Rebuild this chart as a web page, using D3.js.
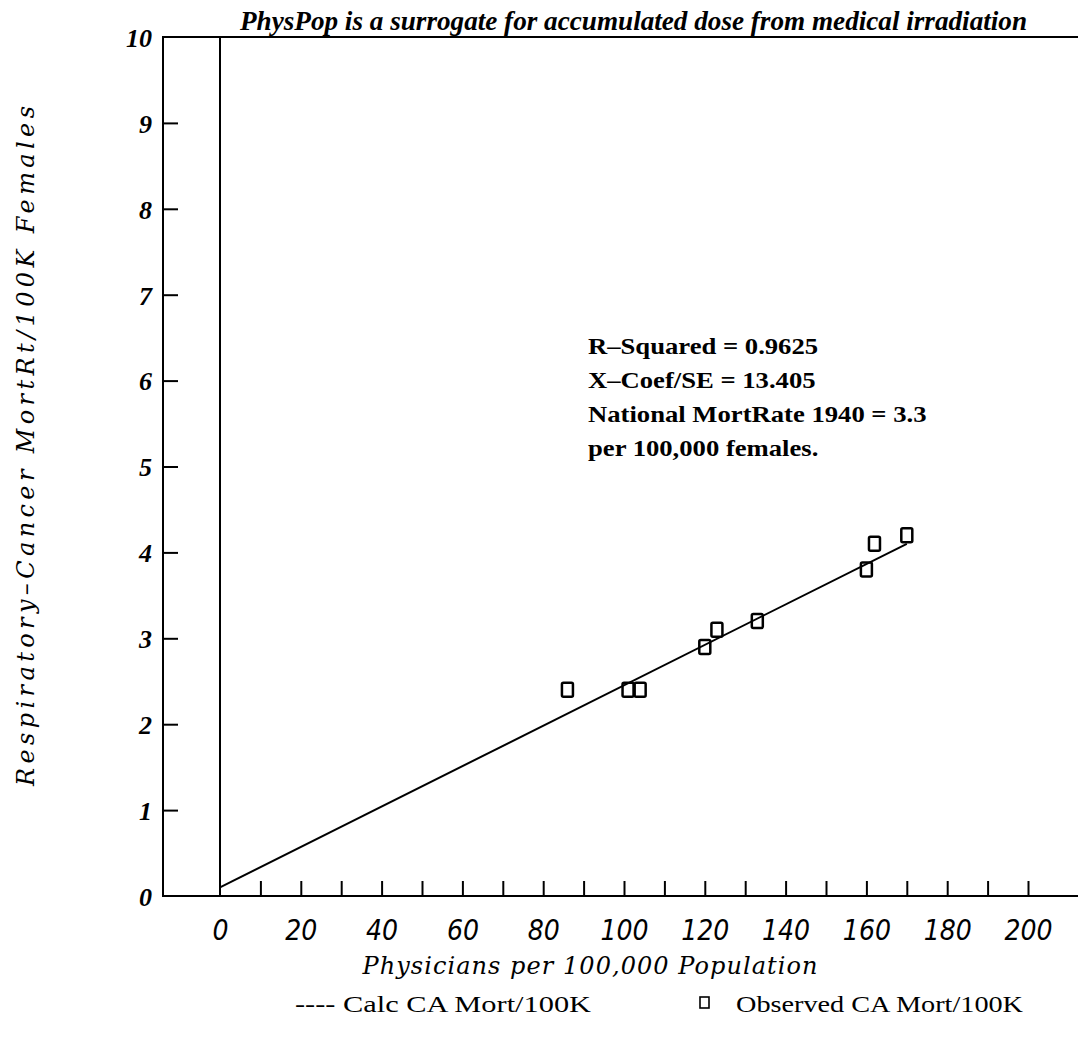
<!DOCTYPE html>
<html lang="en">
<head>
    <meta charset="utf-8">
    <title>PhysPop vs Respiratory-Cancer Mortality</title>
    <script src="https://d3js.org/d3.v7.min.js"></script>
    <style>
        body {
            margin: 0;
            background: #fff;
        }
        svg {
            display: block;
        }
        .frame {
            stroke: #000;
            stroke-width: 2px;
            fill: none;
        }
        .tick line {
            stroke: #000;
            stroke-width: 2px;
        }
        .y-label text {
            font-family: "Liberation Serif", serif;
            font-style: italic;
            font-weight: bold;
            font-size: 26px;
            fill: #000;
        }
        .x-label text {
            font-family: "DejaVu Sans Condensed", "Liberation Sans Narrow", sans-serif;
            font-style: italic;
            font-size: 28px;
            fill: #000;
        }
        .axis-title {
            font-family: "DejaVu Serif", serif;
            font-style: italic;
            font-size: 24px;
        }
        .top-title {
            font-family: "Liberation Serif", serif;
            font-style: italic;
            font-weight: bold;
            font-size: 27px;
        }
        .stats {
            font-family: "Liberation Serif", serif;
            font-weight: bold;
            font-size: 24px;
        }
        .legend {
            font-family: "Liberation Serif", serif;
            font-size: 24px;
        }
        .obs {
            fill: none;
            stroke: #000;
            stroke-width: 2.5px;
        }
    </style>
</head>
<body>
    <svg width="1078" height="1041"></svg>
    <script>
        // values
        const physicians = [86, 101, 104, 120, 123, 133, 160, 162, 170];
        const observedMort = [2.4, 2.4, 2.4, 2.9, 3.1, 3.2, 3.8, 4.1, 4.2];
        const calcPhys = [0, 170];
        const calcMort = [0.1, 4.1];
        const xLabelValues = [0, 20, 40, 60, 80, 100, 120, 140, 160, 180, 200];
        const xTickValues = [10, 20, 30, 40, 50, 60, 70, 80, 90, 100, 110, 120, 130, 140, 150, 160, 170, 180, 190, 200];
        const yTickValues = [1, 2, 3, 4, 5, 6, 7, 8, 9];
        const yLabelValues = [0, 1, 2, 3, 4, 5, 6, 7, 8, 9, 10];
        const statLines = [
            'R\u2013Squared = 0.9625',
            'X\u2013Coef/SE = 13.405',
            'National MortRate 1940 = 3.3',
            'per 100,000 females.'
        ];

        const svg = d3.select('svg');

        const x = d3.scaleLinear().domain([0, 200]).range([220, 1028]);
        const y = d3.scaleLinear().domain([0, 10]).range([896, 37]);
        const frameLeft = 163;
        const frameRight = 1090;

        // frame
        svg.append('path')
            .attr('class', 'frame')
            .attr('d', `M${frameRight},${y(10)}H${frameLeft}V${y(0)}H${frameRight}`);

        // vertical line at x = 0
        svg.append('line')
            .attr('class', 'frame')
            .attr('x1', x(0)).attr('x2', x(0))
            .attr('y1', y(10)).attr('y2', y(0));

        // y ticks pointing inward
        svg.append('g')
            .attr('transform', `translate(${frameLeft},0)`)
            .call(d3.axisRight(y).tickValues(yTickValues).tickSize(15).tickFormat(''))
            .call(g => g.select('.domain').remove());

        // y tick labels
        svg.append('g')
            .attr('class', 'y-label')
            .attr('transform', `translate(${frameLeft},0)`)
            .call(d3.axisLeft(y).tickValues(yLabelValues).tickSize(0).tickPadding(11).tickFormat(d3.format('d')))
            .call(g => g.select('.domain').remove())
            .call(g => g.selectAll('text').attr('dy', '0.36em'));

        // x ticks pointing up
        svg.append('g')
            .attr('transform', `translate(0,${y(0)})`)
            .call(d3.axisTop(x).tickValues(xTickValues).tickSize(15).tickFormat(''))
            .call(g => g.select('.domain').remove());

        // x tick labels
        svg.append('g')
            .attr('class', 'x-label')
            .attr('transform', `translate(0,${y(0)})`)
            .call(d3.axisBottom(x).tickValues(xLabelValues).tickSize(0).tickPadding(24).tickFormat(d3.format('d')))
            .call(g => g.select('.domain').remove());

        // calculated line
        const line = d3.line()
            .x(d => x(d[0]))
            .y(d => y(d[1]));
        svg.append('path')
            .datum(d3.zip(calcPhys, calcMort))
            .attr('fill', 'none')
            .attr('stroke', '#000')
            .attr('stroke-width', 2)
            .attr('d', line);

        // observed points
        svg.selectAll('.obs')
            .data(d3.zip(physicians, observedMort))
            .enter().append('rect')
            .attr('class', 'obs')
            .attr('x', d => x(d[0]) - 5.5)
            .attr('y', d => y(d[1]) - 7)
            .attr('width', 11)
            .attr('height', 14)
            .attr('rx', 1.5);

        // titles
        svg.append('text')
            .attr('class', 'top-title')
            .attr('x', 240)
            .attr('y', 30)
            .attr('textLength', 787)
            .attr('lengthAdjust', 'spacingAndGlyphs')
            .text('PhysPop is a surrogate for accumulated dose from medical irradiation');

        svg.append('text')
            .attr('class', 'axis-title')
            .attr('transform', 'translate(34,446) rotate(-90)')
            .attr('text-anchor', 'middle')
            .attr('textLength', 680)
            .attr('lengthAdjust', 'spacing')
            .text('Respiratory\u2013Cancer MortRt/100K Females');

        svg.append('text')
            .attr('class', 'axis-title')
            .attr('x', 590)
            .attr('y', 974)
            .attr('text-anchor', 'middle')
            .attr('textLength', 455)
            .attr('lengthAdjust', 'spacing')
            .text('Physicians per 100,000 Population');

        // regression stats
        svg.append('g')
            .selectAll('text')
            .data(statLines)
            .enter().append('text')
            .attr('class', 'stats')
            .attr('x', 588)
            .attr('y', (d, i) => y(6.4) + 8 + i * 34)
            .text(d => d)
            .each(function() {
                const w = this.getComputedTextLength();
                d3.select(this).attr('textLength', w * 1.11).attr('lengthAdjust', 'spacingAndGlyphs');
            });

        // legend
        svg.append('text')
            .attr('class', 'legend')
            .attr('x', 295)
            .attr('y', 1012)
            .attr('textLength', 296)
            .attr('lengthAdjust', 'spacingAndGlyphs')
            .text('---- Calc CA Mort/100K');

        svg.append('rect')
            .attr('x', 700)
            .attr('y', 997)
            .attr('width', 9)
            .attr('height', 11)
            .attr('fill', 'none')
            .attr('stroke', '#000')
            .attr('stroke-width', 1.6);

        svg.append('text')
            .attr('class', 'legend')
            .attr('x', 736)
            .attr('y', 1012)
            .attr('textLength', 287)
            .attr('lengthAdjust', 'spacingAndGlyphs')
            .text('Observed CA Mort/100K');
    </script>
</body>
</html>
